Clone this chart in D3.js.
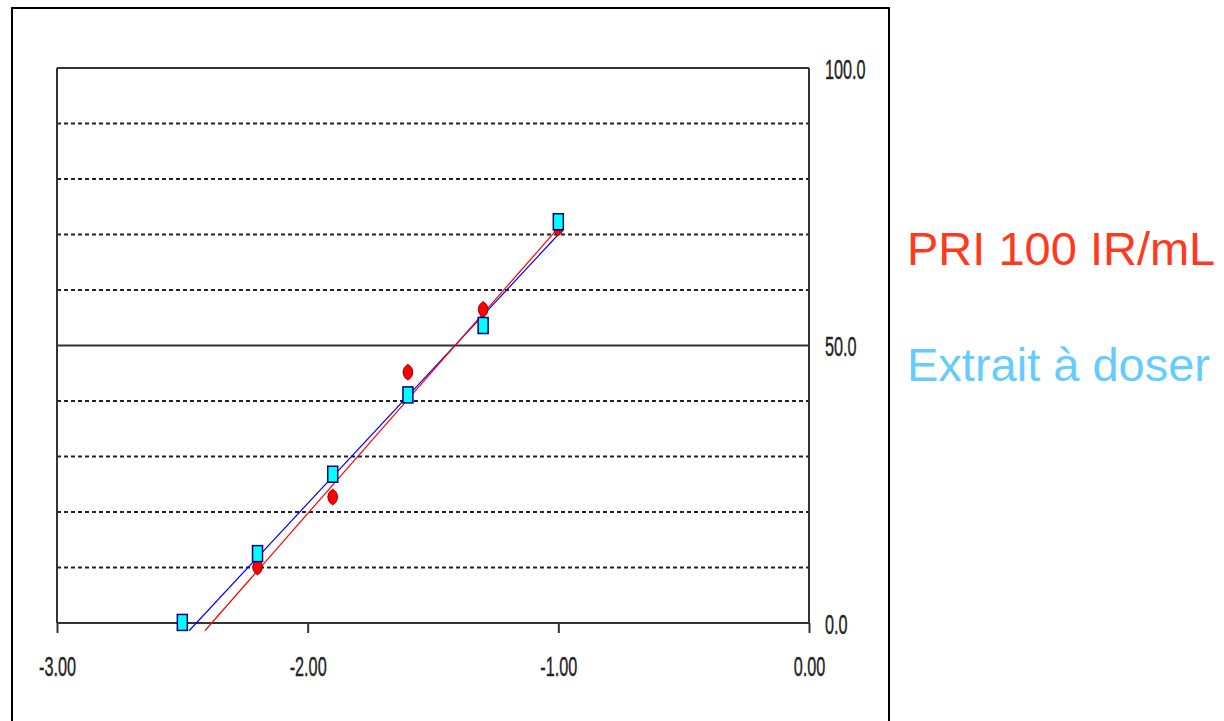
<!DOCTYPE html>
<html>
<head>
<meta charset="utf-8">
<script src="https://cdn.jsdelivr.net/npm/d3@7"></script>
<style>
  html, body { margin: 0; padding: 0; background: #fff; }
  svg { display: block; }
</style>
</head>
<body>
<svg id="chart" width="1224" height="721"></svg>
<script>
// data
const doseX = [-2.5, -2.2, -1.9, -1.6, -1.3, -1.0];
const refX = [-2.2, -1.9, -1.6, -1.3, -1.0];
const refY = [10.1, 22.7, 45.2, 56.5, 71.2];          // PRI 100 IR/mL
const extY = [0.1, 12.5, 26.8, 41.1, 53.6, 72.3];      // Extrait à doser
// fitted lines, endpoints as drawn
const refFit = [[-2.41, -1.4], [-1.0, 71.2]];
const extFit = [[-2.473, -1.4], [-1.0, 70.0]];

const xTicks = [-3, -2, -1, 0];
const yTicks = [0, 50, 100];
const gridValues = [0, 10, 20, 30, 40, 50, 60, 70, 80, 90, 100];
const solidGrid = [0, 50, 100];
const seriesNames = ["PRI 100 IR/mL", "Extrait à doser"];
const seriesColors = ["#ff3a1c", "#66ccff"];

const svg = d3.select("#chart");

// outer frame (runs off the bottom)
svg.append("rect")
  .attr("x", 12).attr("y", 8)
  .attr("width", 877).attr("height", 740)
  .attr("fill", "none")
  .attr("stroke", "#000")
  .attr("stroke-width", 2);

const x = d3.scaleLinear().domain([-3, 0]).range([57, 809]);
const y = d3.scaleLinear().domain([0, 100]).range([623, 68]);

const squeeze = 0.58;  // narrow tick font

// gridlines
svg.append("g").selectAll("line")
  .data(gridValues)
  .join("line")
  .attr("x1", x(-3)).attr("x2", x(0))
  .attr("y1", d => y(d)).attr("y2", d => y(d))
  .attr("stroke", d => solidGrid.includes(d) ? "#333" : "#222")
  .attr("stroke-width", 2)
  .attr("stroke-dasharray", d => solidGrid.includes(d) ? null : "4,3");

// left / right borders
svg.append("g").selectAll("line")
  .data([-3, 0])
  .join("line")
  .attr("x1", d => x(d)).attr("x2", d => x(d))
  .attr("y1", y(100)).attr("y2", y(0))
  .attr("stroke", "#333")
  .attr("stroke-width", 2);

// bottom axis
const xAxis = svg.append("g")
  .attr("transform", `translate(0,${y(0)})`)
  .call(d3.axisBottom(x).tickValues(xTicks).tickSize(10).tickSizeOuter(0)
    .tickFormat(d => d.toFixed(2)));
xAxis.select(".domain").remove();
xAxis.selectAll(".tick line").attr("stroke", "#333").attr("stroke-width", 2);
xAxis.selectAll(".tick text")
  .attr("y", 53).attr("dy", null)
  .attr("x", 0)
  .attr("transform", `scale(${squeeze},1)`)
  .attr("font-family", "Liberation Sans, Arial, sans-serif")
  .attr("font-size", 28)
  .attr("fill", "#222")
  .attr("stroke", "#222").attr("stroke-width", 0.4);

// right axis labels
const yAxis = svg.append("g")
  .attr("transform", `translate(${x(0)},0)`)
  .call(d3.axisRight(y).tickValues(yTicks).tickSize(0).tickSizeOuter(0)
    .tickFormat(d => d.toFixed(1)));
yAxis.select(".domain").remove();
yAxis.selectAll(".tick text")
  .attr("x", 16 / squeeze).attr("dy", 10)
  .attr("transform", `scale(${squeeze},1)`)
  .attr("font-family", "Liberation Sans, Arial, sans-serif")
  .attr("font-size", 28)
  .attr("fill", "#222")
  .attr("stroke", "#222").attr("stroke-width", 0.4);

// fit lines
const line = d3.line().x(d => x(d[0])).y(d => y(d[1]));
svg.append("path").datum(extFit)
  .attr("d", line).attr("stroke", "#0000ff").attr("stroke-width", 1.2).attr("fill", "none");
svg.append("path").datum(refFit)
  .attr("d", line).attr("stroke", "#ff0000").attr("stroke-width", 1.2).attr("fill", "none");

// red markers
svg.append("g").selectAll("path")
  .data(refX.map((v, i) => [v, refY[i]]))
  .join("path")
  .attr("transform", d => `translate(${x(d[0])},${y(d[1])})`)
  .attr("d", "M0,-8 Q5,-5 5,0 Q5,5 0,8 Q-5,5 -5,0 Q-5,-5 0,-8Z")
  .attr("fill", "#ff0000")
  .attr("stroke", "#7a0000")
  .attr("stroke-width", 0.8);

// cyan squares
svg.append("g").selectAll("rect")
  .data(doseX.map((v, i) => [v, extY[i]]))
  .join("rect")
  .attr("x", d => x(d[0]) - 5)
  .attr("y", d => y(d[1]) - 8)
  .attr("width", 10).attr("height", 16)
  .attr("fill", "#00ffff")
  .attr("stroke", "#000080")
  .attr("stroke-width", 1.5);

// legend text
svg.append("g").selectAll("text")
  .data(seriesNames)
  .join("text")
  .attr("x", 907)
  .attr("y", (d, i) => 265 + i * 116)
  .attr("font-family", "Liberation Sans, Arial, sans-serif")
  .attr("font-size", 47)
  .attr("fill", (d, i) => seriesColors[i])
  .text(d => d);
</script>
</body>
</html>
